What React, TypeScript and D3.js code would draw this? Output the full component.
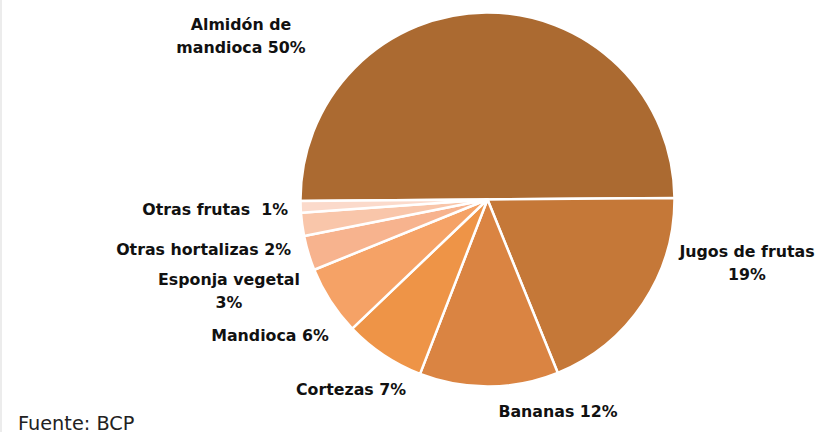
import React from "react";
import * as d3 from "d3";

const categories = [
  "Almidón de mandioca",
  "Jugos de frutas",
  "Bananas",
  "Cortezas",
  "Mandioca",
  "Esponja vegetal",
  "Otras hortalizas",
  "Otras frutas",
];
const values = [50, 19, 12, 7, 6, 3, 2, 1];
const labelLines = [
  ["Almidón de", "mandioca 50%"],
  ["Jugos de frutas", "19%"],
  ["Bananas 12%"],
  ["Cortezas 7%"],
  ["Mandioca 6%"],
  ["Esponja vegetal", "3%"],
  ["Otras hortalizas 2%"],
  ["Otras frutas\u00a0 1%"],
];
const colors = [
  "#AB6A31",
  "#C57838",
  "#DA8442",
  "#EE9447",
  "#F5A266",
  "#F7B38E",
  "#F9C6AA",
  "#FBDACB",
];
// label layout: [x, y of first baseline, anchor]
const labelLayout: [number, number, string][] = [
  [241, 30, "middle"],
  [747, 257, "middle"],
  [558, 417, "middle"],
  [351, 395, "middle"],
  [270, 341, "middle"],
  [229, 285, "middle"],
  [291, 255, "end"],
  [288, 215, "end"],
];

const W = 817;
const H = 432;
const cx = 487.5;
const cy = 199.5;
const R = 187;

export default function App() {
  const pie = d3
    .pie<number>()
    .sort(null)
    .startAngle(-Math.PI / 2 - 0.008)
    .endAngle((3 * Math.PI) / 2 - 0.008)
    .value((d) => d);
  const arcs = pie(values);
  const arc = d3.arc<d3.PieArcDatum<number>>().innerRadius(0).outerRadius(R);
  return (
    <svg
      width={W}
      height={H}
      style={{ position: "absolute", left: 0, top: 0, background: "#fff" }}
      fontFamily="'DejaVu Sans', Verdana, sans-serif"
    >
      <line x1={1} y1={0} x2={1} y2={H} stroke="#D9D9D9" strokeWidth={1} />
      <g transform={`translate(${cx},${cy})`}>
        {arcs.map((a, i) => (
          <path
            key={categories[i]}
            d={arc(a) || ""}
            fill={colors[i]}
            stroke="#fff"
            strokeWidth={2.5}
            strokeLinejoin="round"
          />
        ))}
      </g>
      {labelLines.map((lines, i) => (
        <text
          key={categories[i]}
          x={labelLayout[i][0]}
          y={labelLayout[i][1]}
          textAnchor={labelLayout[i][2] as any}
          fontWeight="bold"
          fontSize={15.8}
          fill="#111"
        >
          {lines.map((l, j) => (
            <tspan key={j} x={labelLayout[i][0]} dy={j === 0 ? 0 : 23}>
              {l}
            </tspan>
          ))}
        </text>
      ))}
      <text x={18} y={430} fontSize={19.3} fill="#222">
        Fuente: BCP
      </text>
    </svg>
  );
}
